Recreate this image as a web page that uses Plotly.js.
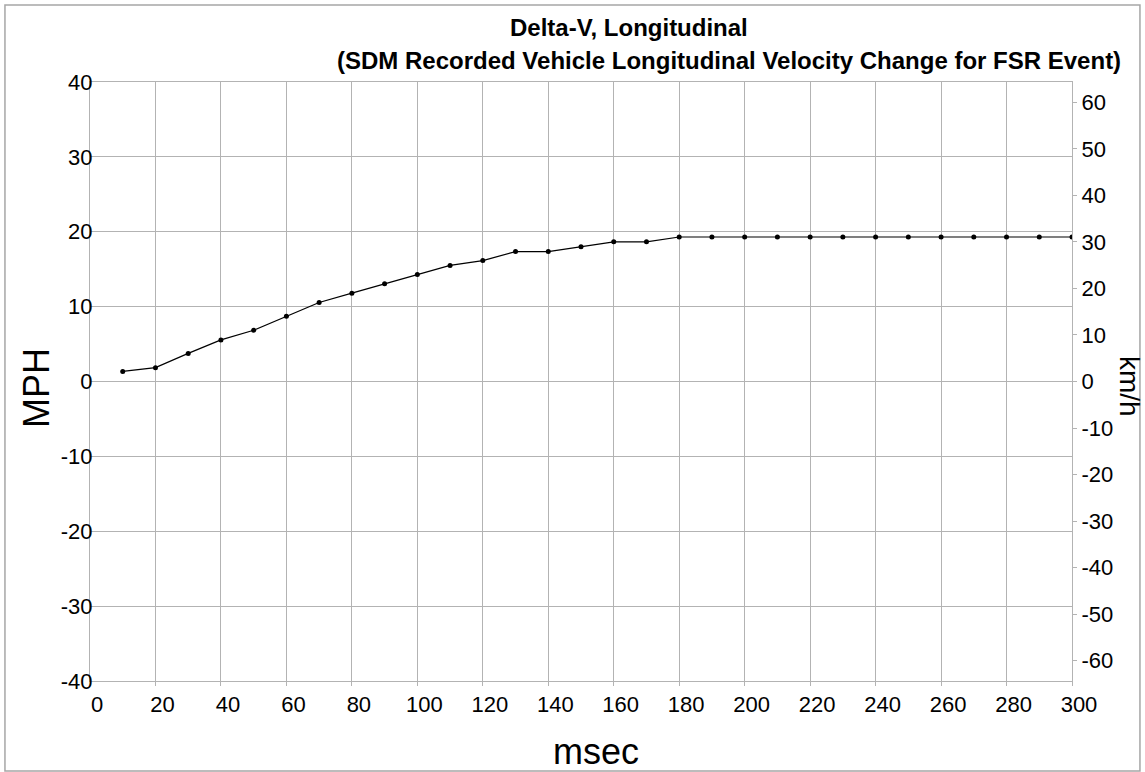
<!DOCTYPE html>
<html>
<head>
<meta charset="utf-8">
<script src="https://cdn.plot.ly/plotly-3.0.1.min.js"></script>
<style>
  html, body { margin: 0; padding: 0; background: #ffffff; }
  #chart { width: 1145px; height: 772px; }
</style>
</head>
<body>
<div id="chart"></div>
<script>
// Time after algorithm enable (msec)
const timeMsec = [10, 20, 30, 40, 50, 60, 70, 80, 90, 100,
                  110, 120, 130, 140, 150, 160, 170, 180, 190, 200,
                  210, 220, 230, 240, 250, 260, 270, 280, 290, 300];
// Longitudinal delta-V (MPH)
const deltaVmph = [1.35, 1.85, 3.75, 5.55, 6.85, 8.7, 10.55, 11.8, 13.05, 14.3,
                   15.5, 16.15, 17.35, 17.35, 18.0, 18.65, 18.65, 19.3, 19.3, 19.3,
                   19.3, 19.3, 19.3, 19.3, 19.3, 19.3, 19.3, 19.3, 19.3, 19.3];
const xTicks = [0, 20, 40, 60, 80, 100, 120, 140, 160, 180, 200, 220, 240, 260, 280, 300];
const mphTicks = [-40, -30, -20, -10, 0, 10, 20, 30, 40];
const kmhTicks = [-60, -50, -40, -30, -20, -10, 0, 10, 20, 30, 40, 50, 60];
const mphRange = [-40, 40];
const kmhPerMph = 1.609344;

const titleLine1 = 'Delta-V, Longitudinal';
const titleLine2 = '(SDM Recorded Vehicle Longitudinal Velocity Change for FSR Event)';

const FONT = 'Liberation Sans, Arial, sans-serif';
const GRID = '#b3b3b3';

const trace = {
  x: timeMsec,
  y: deltaVmph,
  type: 'scatter',
  mode: 'lines+markers',
  line: { color: '#000000', width: 1.2 },
  marker: { color: '#000000', size: 5, symbol: 'circle' },
  showlegend: false,
  hoverinfo: 'x+y'
};

const layout = {
  width: 1145,
  height: 772,
  margin: { l: 90, r: 73, t: 82, b: 91 },
  paper_bgcolor: '#ffffff',
  plot_bgcolor: '#ffffff',
  showlegend: false,
  font: { family: FONT, color: '#000000', size: 22 },
  xaxis: {
    range: [0, 300],
    tickmode: 'array',
    tickvals: xTicks,
    ticktext: xTicks.map(String),
    showgrid: true,
    gridcolor: GRID,
    gridwidth: 1,
    zeroline: false,
    showline: true,
    linecolor: GRID,
    linewidth: 1,
    mirror: true,
    ticks: 'outside',
    ticklen: 4,
    tickcolor: GRID,
    ticklabelshift: 7,
    tickfont: { family: FONT, size: 22, color: '#000000' }
  },
  yaxis: {
    range: mphRange,
    tickmode: 'array',
    tickvals: mphTicks,
    ticktext: mphTicks.map(String),
    showgrid: true,
    gridcolor: GRID,
    gridwidth: 1,
    zeroline: false,
    showline: true,
    linecolor: GRID,
    linewidth: 1,
    ticks: '',
    ticklabelstandoff: -8,
    tickfont: { family: FONT, size: 22, color: '#000000' }
  },
  yaxis2: {
    overlaying: 'y',
    side: 'right',
    range: [mphRange[0] * kmhPerMph, mphRange[1] * kmhPerMph],
    tickmode: 'array',
    tickvals: kmhTicks,
    ticktext: kmhTicks.map(String),
    showgrid: false,
    zeroline: false,
    showline: true,
    linecolor: GRID,
    ticks: 'outside',
    ticklen: 4,
    tickcolor: GRID,
    tickfont: { family: FONT, size: 22, color: '#000000' }
  },
  annotations: [
    { text: titleLine1, xref: 'paper', yref: 'paper', x: 0.4257, y: 1.0918,
      xanchor: 'left', yanchor: 'middle', showarrow: false,
      font: { family: FONT, size: 24, color: '#000000', weight: 'bold' } },
    { text: titleLine2, xref: 'paper', yref: 'paper', x: 0.2495, y: 1.0367,
      xanchor: 'left', yanchor: 'middle', showarrow: false,
      font: { family: FONT, size: 24, color: '#000000', weight: 'bold' } },
    { text: 'MPH', xref: 'paper', yref: 'paper', x: -0.055, y: 0.489,
      xanchor: 'center', yanchor: 'middle', textangle: -90, showarrow: false,
      font: { family: FONT, size: 36, color: '#000000' } },
    { text: 'msec', xref: 'paper', yref: 'paper', x: 0.5153, y: -0.1185,
      xanchor: 'center', yanchor: 'middle', showarrow: false,
      font: { family: FONT, size: 36, color: '#000000' } },
    { text: 'km/h', xref: 'paper', yref: 'paper', x: 1.058, y: 0.491,
      xanchor: 'center', yanchor: 'middle', textangle: 90, showarrow: false,
      font: { family: FONT, size: 28, color: '#000000' } }
  ],
  shapes: [
    { type: 'rect', xref: 'paper', yref: 'paper',
      x0: -0.0866, x1: 1.0692, y0: -0.1503, y1: 1.1285,
      line: { color: '#a6a6a6', width: 1.5 }, fillcolor: 'rgba(0,0,0,0)', layer: 'below' }
  ]
};

// Invisible companion trace so the km/h axis is drawn
const kmhAxisTrace = {
  x: [timeMsec[0]],
  y: [deltaVmph[0] * kmhPerMph],
  yaxis: 'y2',
  type: 'scatter',
  mode: 'markers',
  marker: { opacity: 0 },
  showlegend: false,
  hoverinfo: 'skip'
};

Plotly.newPlot('chart', [trace, kmhAxisTrace], layout, { displayModeBar: false, staticPlot: true });
</script>
</body>
</html>
